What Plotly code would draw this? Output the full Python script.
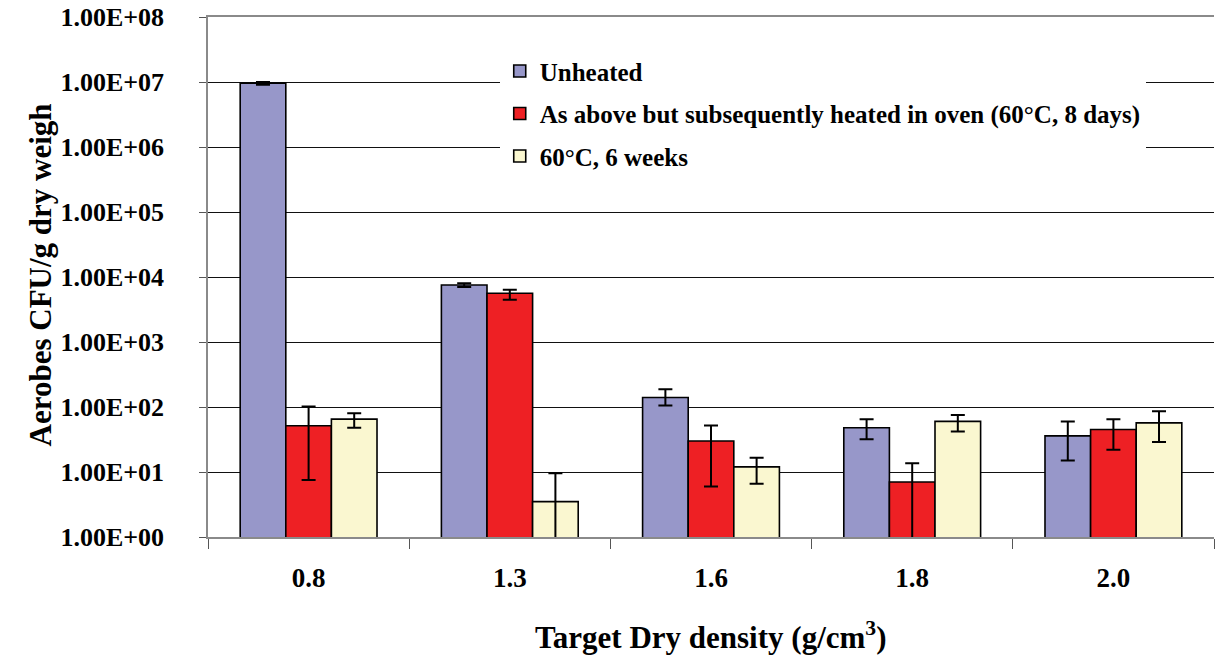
import plotly.graph_objects as go

# Target dry density categories (g/cm3)
densities = ["0.8", "1.3", "1.6", "1.8", "2.0"]

# Aerobe counts, CFU/g dry weight
unheated = [9.6e6, 7530, 140, 48, 36]
unheated_plus = [4e5, 500, 47, 17, 24]
unheated_minus = [5e5, 500, 35, 16, 21]

oven_heated = [51.5, 5610, 30, 7.0, 45]
oven_plus = [50, 770, 22, 6.6, 20]
oven_minus = [44, 1130, 24, 6.6, 23]

six_weeks = [65, 3.5, 12, 60, 57]
six_plus = [15, 6.1, 4.6, 15, 29]
six_minus = [17, 3.2, 5.4, 18, 28]

series_names = [
    "Unheated",
    "As above but subsequently heated in oven (60°C, 8 days)",
    "60°C, 6 weeks",
]

tick_vals = [1, 10, 100, 1e3, 1e4, 1e5, 1e6, 1e7, 1e8]
tick_text = ["1.00E+00", "1.00E+01", "1.00E+02", "1.00E+03", "1.00E+04",
             "1.00E+05", "1.00E+06", "1.00E+07", "1.00E+08"]

FONT = "Times New Roman, Liberation Serif, DejaVu Serif, serif"
colors = ["#9797C9", "#EE2024", "#FAF7D0"]

fig = go.Figure()
for name, vals, plus, minus, col in zip(
    series_names,
    [unheated, oven_heated, six_weeks],
    [unheated_plus, oven_plus, six_plus],
    [unheated_minus, oven_minus, six_minus],
    colors,
):
    fig.add_trace(go.Bar(
        x=densities, y=vals, name=name, legendgroup=name,
        marker=dict(color=col, line=dict(color="black", width=1.6)),
        error_y=dict(type="data", symmetric=False, array=plus, arrayminus=minus,
                     color="black", thickness=2, width=7),
    ))

fig.update_layout(
    width=1216, height=660,
    margin=dict(l=208, r=2, t=17, b=123),
    paper_bgcolor="white", plot_bgcolor="white",
    barmode="group", bargap=0.32, bargroupgap=0,
    font=dict(family=FONT, color="black"),
    showlegend=True,
    legend=dict(
        x=0.29, y=0.94, xanchor="left", yanchor="top",
        bgcolor="white", borderwidth=0,
        font=dict(family=FONT, size=25, color="black", weight="bold"),
        tracegroupgap=7, itemclick=False,
    ),
    xaxis=dict(
        type="category", tickson="boundaries",
        showline=True, linecolor="#8a8a8a", linewidth=1.5, mirror=True,
        ticks="outside", ticklen=10, tickcolor="#555", tickwidth=1,
        tickfont=dict(family=FONT, size=27, color="black", weight="bold"),
        ticklabelstandoff=16,
        showgrid=False,
    ),
    yaxis=dict(
        type="log", range=[0, 8],
        tickvals=tick_vals, ticktext=tick_text,
        showline=True, linecolor="#8a8a8a", linewidth=1.5,
        ticks="outside", ticklen=7, tickcolor="#555", tickwidth=1,
        tickfont=dict(family=FONT, size=26, color="black", weight="bold"),
        ticklabelstandoff=30,
        showgrid=True, gridcolor="#111", gridwidth=1,
        zeroline=False,
    ),
    annotations=[
        dict(text="Target Dry density (g/cm<sup>3</sup>)", xref="paper", yref="paper",
             x=0.5, y=-0.19, xanchor="center", yanchor="middle", showarrow=False,
             font=dict(family=FONT, size=31, color="black", weight="bold")),
        dict(text="Aerobes CFU/g dry weigh", xref="paper", yref="paper",
             x=-0.167, y=0.505, xanchor="center", yanchor="middle", showarrow=False,
             textangle=-90,
             font=dict(family=FONT, size=31, color="black", weight="bold")),
    ],
)

fig.write_html("out.html")
